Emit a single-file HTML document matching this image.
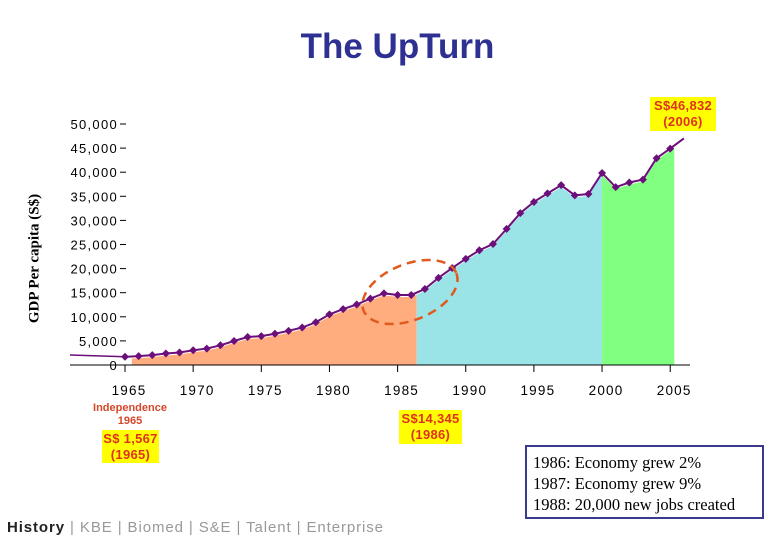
<!DOCTYPE html>
<html><head><meta charset="utf-8"><style>
body{margin:0;background:#fff;width:780px;height:540px;overflow:hidden;position:relative;font-family:"Liberation Sans",sans-serif}
.abs{position:absolute}
.yb{background:#ffff00;color:#e0301e;font-weight:bold;font-size:13px;text-align:center;line-height:16px;letter-spacing:0.3px}
</style></head><body>
<svg class="abs" style="left:0;top:0" width="780" height="540">
<g id="g"></g>
</svg>
<div class="abs" style="left:0;width:795px;top:27px;text-align:center;font-size:35px;font-weight:bold;color:#2e3192">The UpTurn</div>
<div class="abs" style="left:-40px;top:250px;width:150px;text-align:center;transform:rotate(-90deg);font-family:'Liberation Serif',serif;font-weight:bold;font-size:15px">GDP Per capita (S$)</div>
<div class="abs yb" style="left:650px;top:97px;width:66px;height:33px;padding-top:1px">S$46,832<br>(2006)</div>
<div class="abs" style="left:85px;top:402px;width:90px;text-align:center;color:#d4472a;font-weight:bold;font-size:11px;line-height:13px">Independence<br>1965</div>
<div class="abs yb" style="left:102px;top:430px;width:57px;height:32px;padding-top:1px">S$ 1,567<br>(1965)</div>
<div class="abs yb" style="left:399px;top:410px;width:63px;height:33px;padding-top:1px">S$14,345<br>(1986)</div>
<div class="abs" style="left:525px;top:445px;border:2px solid #3a3a8c;font-family:'Liberation Serif',serif;font-size:16.5px;line-height:21px;padding-left:6px;padding-top:5px;box-sizing:border-box;width:239px;height:74px;white-space:nowrap">1986: Economy grew 2%<br>1987: Economy grew 9%<br>1988: 20,000 new jobs created</div>
<div class="abs" style="left:7px;top:519px;font-size:15px;letter-spacing:0.9px;color:#999"><b style="color:#222">History</b> | KBE | Biomed | S&amp;E | Talent | Enterprise</div>
<script>
const years=[1965,1966,1967,1968,1969,1970,1971,1972,1973,1974,1975,1976,1977,1978,1979,1980,1981,1982,1983,1984,1985,1986,1987,1988,1989,1990,1991,1992,1993,1994,1995,1996,1997,1998,1999,2000,2001,2002,2003,2004,2005,2006];
const gdp=[1700,1840,2050,2390,2590,3070,3410,4090,4980,5800,6000,6480,7090,7780,8870,10500,11600,12550,13780,14870,14530,14530,15760,18080,20120,22030,23810,25100,28240,31510,33830,35610,37310,35200,35470,39840,36900,37860,38470,42900,44900,47000];
const yTicks=[0,5000,10000,15000,20000,25000,30000,35000,40000,45000,50000];
const xTicks=[1965,1970,1975,1980,1985,1990,1995,2000,2005];
const X=y=>125+(y-1965)*13.63, Y=v=>365-v*0.00482;
const g=document.getElementById('g'),NS='http://www.w3.org/2000/svg';
function mk(t,a,txt){const e=document.createElementNS(NS,t);for(const k in a)e.setAttribute(k,a[k]);if(txt!=null)e.textContent=txt;g.appendChild(e);return e;}
function val(y){for(let i=0;i<years.length-1;i++)if(y>=years[i]&&y<=years[i+1]){const t=(y-years[i]);return gdp[i]+(gdp[i+1]-gdp[i])*t;}return gdp[gdp.length-1];}
function area(a,b,col,name){let p=[];p.push(X(a)+','+Y(0));for(let y=a;y<b;y=Math.floor(y)+1){p.push(X(y)+','+(Y(val(y))+2));}p.push(X(b)+','+(Y(val(b))+2));p.push(X(b)+','+Y(0));const e=mk('polygon',{points:p.join(' '),fill:col});

}
area(1965.5,1986.4,'#ffad7f','area-1965-1986');
area(1986.4,2000,'#9ae3e6','area-1986-2000');
area(2000,2005.3,'#80ff80','area-2000-2005');
const ax=mk('line',{x1:70,y1:365,x2:690,y2:365,stroke:'#000'});


yTicks.forEach(v=>{mk('line',{x1:120,x2:126,y1:Y(v),y2:Y(v),stroke:'#000'});const t=mk('text',{x:118,y:Y(v)+5,'text-anchor':'end','font-size':13,'letter-spacing':1.3,fill:'#000'},v===0?'0':v.toLocaleString('en-US'));

});
xTicks.forEach(y=>{mk('line',{x1:X(y),x2:X(y),y1:365,y2:372,stroke:'#000'});const t=mk('text',{x:X(y)+4,y:395,'text-anchor':'middle','font-size':13.5,'letter-spacing':1.2},String(y));

});
mk('line',{x1:70,y1:355,x2:X(years[0]),y2:Y(gdp[0]),stroke:'#6b0f7a','stroke-width':1.5});
const ln=mk('polyline',{points:years.map((y,i)=>X(y)+','+Y(gdp[i])).join(' '),fill:'none',stroke:'#6b0f7a','stroke-width':2});


years.slice(0,-1).forEach((y,i)=>{const cx=X(y),cy=Y(gdp[i]);const d=mk('polygon',{points:`${cx},${cy-4} ${cx+4},${cy} ${cx},${cy+4} ${cx-4},${cy}`,fill:'#6b0f7a'});

});
const el=mk('ellipse',{cx:410,cy:292,rx:50,ry:28,fill:'none',stroke:'#e05a1e','stroke-width':2.5,'stroke-dasharray':'9 6',transform:'rotate(-22 410 292)'});


</script>
</body></html>
